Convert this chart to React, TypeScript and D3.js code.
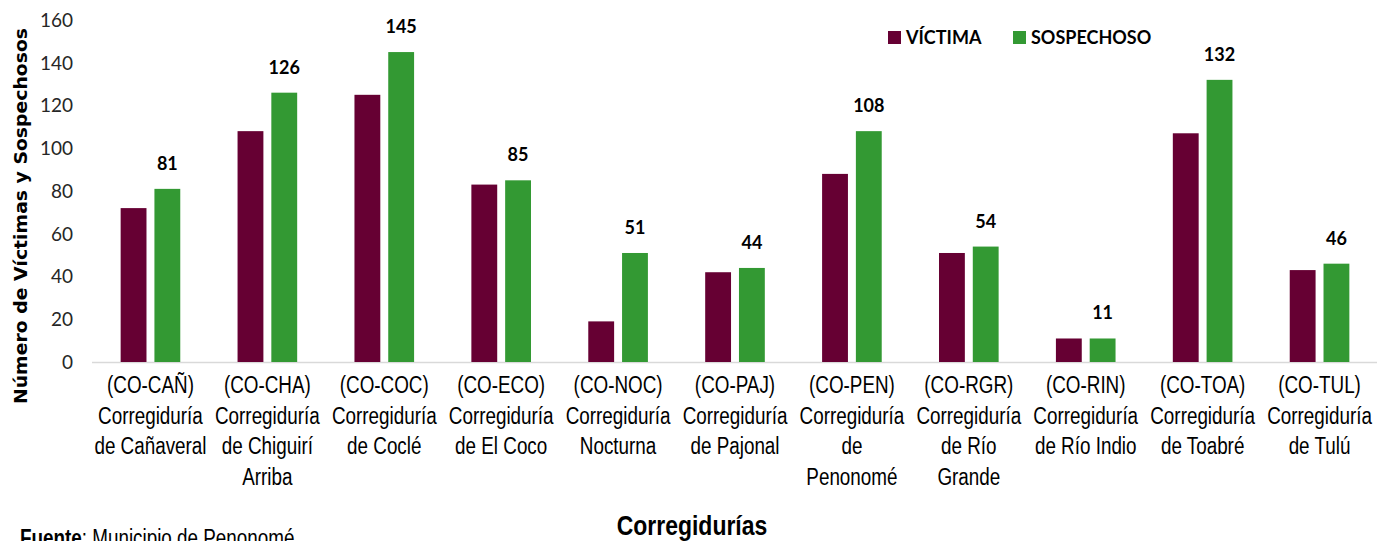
import React, { useEffect, useRef } from 'react';
import * as d3 from 'd3';

const codes = ['(CO-CAÑ)', '(CO-CHA)', '(CO-COC)', '(CO-ECO)', '(CO-NOC)', '(CO-PAJ)', '(CO-PEN)', '(CO-RGR)', '(CO-RIN)', '(CO-TOA)', '(CO-TUL)'];
const names = [
  ['Corregiduría', 'de Cañaveral'],
  ['Corregiduría', 'de Chiguirí', 'Arriba'],
  ['Corregiduría', 'de Coclé'],
  ['Corregiduría', 'de El Coco'],
  ['Corregiduría', 'Nocturna'],
  ['Corregiduría', 'de Pajonal'],
  ['Corregiduría', 'de', 'Penonomé'],
  ['Corregiduría', 'de Río', 'Grande'],
  ['Corregiduría', 'de Río Indio'],
  ['Corregiduría', 'de Toabré'],
  ['Corregiduría', 'de Tulú'],
];
const victima = [72, 108, 125, 83, 19, 42, 88, 51, 11, 107, 43];
const sospechoso = [81, 126, 145, 85, 51, 44, 108, 54, 11, 132, 46];
const yTicks = [0, 20, 40, 60, 80, 100, 120, 140, 160];
const seriesKeys = ['VÍCTIMA', 'SOSPECHOSO'];
const colors = ['#660033', '#339933'];

const W = 1377;
const H = 541;
const NARROW = 0.82; // squeeze Liberation Sans to look like Arial Narrow

const App = () => {
  const svgRef = useRef<SVGSVGElement>(null);

  useEffect(() => {
    const svg = d3.select(svgRef.current);
    svg.selectAll('*').remove();

    const x0 = d3.scaleBand<string>()
      .domain(codes)
      .range([92, 1378])
      .paddingInner(0.49)
      .paddingOuter(0.245);

    const x1 = d3.scaleBand<string>()
      .domain(seriesKeys)
      .range([0, x0.bandwidth()])
      .paddingInner(0.235);

    const y = d3.scaleLinear().domain([0, 160]).range([362, 20]);

    const numFont = 'Lato, "Open Sans", sans-serif';
    const sans = '"Liberation Sans", Arial, sans-serif';

    // y tick labels
    svg.append('g')
      .selectAll('text')
      .data(yTicks)
      .enter()
      .append('text')
      .attr('x', 73)
      .attr('y', d => y(d))
      .attr('dy', '0.36em')
      .attr('text-anchor', 'end')
      .style('font-family', numFont)
      .style('font-size', '19px')
      .attr('fill', '#262626')
      .text(d => d);

    // baseline
    svg.append('line')
      .attr('x1', 92)
      .attr('x2', 1378)
      .attr('y1', y(0) + 0.5)
      .attr('y2', y(0) + 0.5)
      .attr('stroke', '#d9d9d9')
      .attr('stroke-width', 1.5);

    const rows = codes.map((c, i) => ({ code: c, values: [victima[i], sospechoso[i]] }));

    const groups = svg.append('g')
      .selectAll('g')
      .data(rows)
      .enter()
      .append('g')
      .attr('transform', d => `translate(${x0(d.code)},0)`);

    groups.selectAll('rect')
      .data(d => d.values.map((v, k) => ({ key: seriesKeys[k], v, k })))
      .enter()
      .append('rect')
      .attr('x', d => x1(d.key)!)
      .attr('y', d => y(d.v))
      .attr('width', x1.bandwidth())
      .attr('height', d => y(0) - y(d.v))
      .attr('fill', d => colors[d.k]);

    // value labels on SOSPECHOSO bars
    groups.append('text')
      .attr('x', x1('SOSPECHOSO')! + x1.bandwidth() / 2)
      .attr('y', d => y(d.values[1]) - 19)
      .attr('text-anchor', 'middle')
      .style('font-family', numFont)
      .style('font-size', '18px')
      .style('font-weight', 'bold')
      .attr('fill', '#000')
      .text(d => d.values[1]);

    // category labels
    svg.append('g')
      .selectAll('text')
      .data(codes)
      .enter()
      .append('text')
      .attr('transform', d => `translate(${x0(d)! + x0.bandwidth() / 2},393) scale(${NARROW},1)`)
      .attr('text-anchor', 'middle')
      .style('font-family', sans)
      .style('font-size', '23px')
      .attr('fill', '#000')
      .each(function (d, i) {
        const t = d3.select(this);
        [d, ...names[i]].forEach((line, j) => {
          t.append('tspan').attr('x', 0).attr('y', j * 30.6).text(line);
        });
      });

    // legend
    const legend = svg.append('g');
    const legendX = [888, 1013];
    seriesKeys.forEach((k, i) => {
      legend.append('rect')
        .attr('x', legendX[i])
        .attr('y', 31)
        .attr('width', 13)
        .attr('height', 13)
        .attr('fill', colors[i]);
      legend.append('text')
        .attr('x', legendX[i] + 18)
        .attr('y', 37.5)
        .attr('dy', '0.36em')
        .style('font-family', numFont)
        .style('font-size', '18px')
        .style('font-weight', 'bold')
        .attr('fill', '#000')
        .text(k);
    });

    // y axis title
    svg.append('text')
      .attr('transform', 'translate(27,216) rotate(-90)')
      .attr('text-anchor', 'middle')
      .attr('textLength', 376)
      .attr('lengthAdjust', 'spacingAndGlyphs')
      .style('font-family', '"DejaVu Sans", Verdana, sans-serif')
      .style('font-size', '18px')
      .style('font-weight', 'bold')
      .attr('fill', '#000')
      .text('Número de Víctimas y Sospechosos');

    // x axis title
    svg.append('text')
      .attr('transform', `translate(692,535) scale(${NARROW},1)`)
      .attr('text-anchor', 'middle')
      .style('font-family', sans)
      .style('font-size', '28px')
      .style('font-weight', 'bold')
      .attr('fill', '#000')
      .text('Corregidurías');

    // source (cut by the bottom edge, as in the original)
    const src = svg.append('text')
      .attr('transform', `translate(20,546) scale(${NARROW},1)`)
      .style('font-family', sans)
      .style('font-size', '23px')
      .attr('fill', '#000');
    src.append('tspan').style('font-weight', 'bold').text('Fuente');
    src.append('tspan').text(': Municipio de Penonomé');
  }, []);

  return (
    <div>
      <style>{'body{margin:0;}'}</style>
      <svg ref={svgRef} width={W} height={H} style={{ display: 'block', background: '#fff' }} />
    </div>
  );
};

export default App;
